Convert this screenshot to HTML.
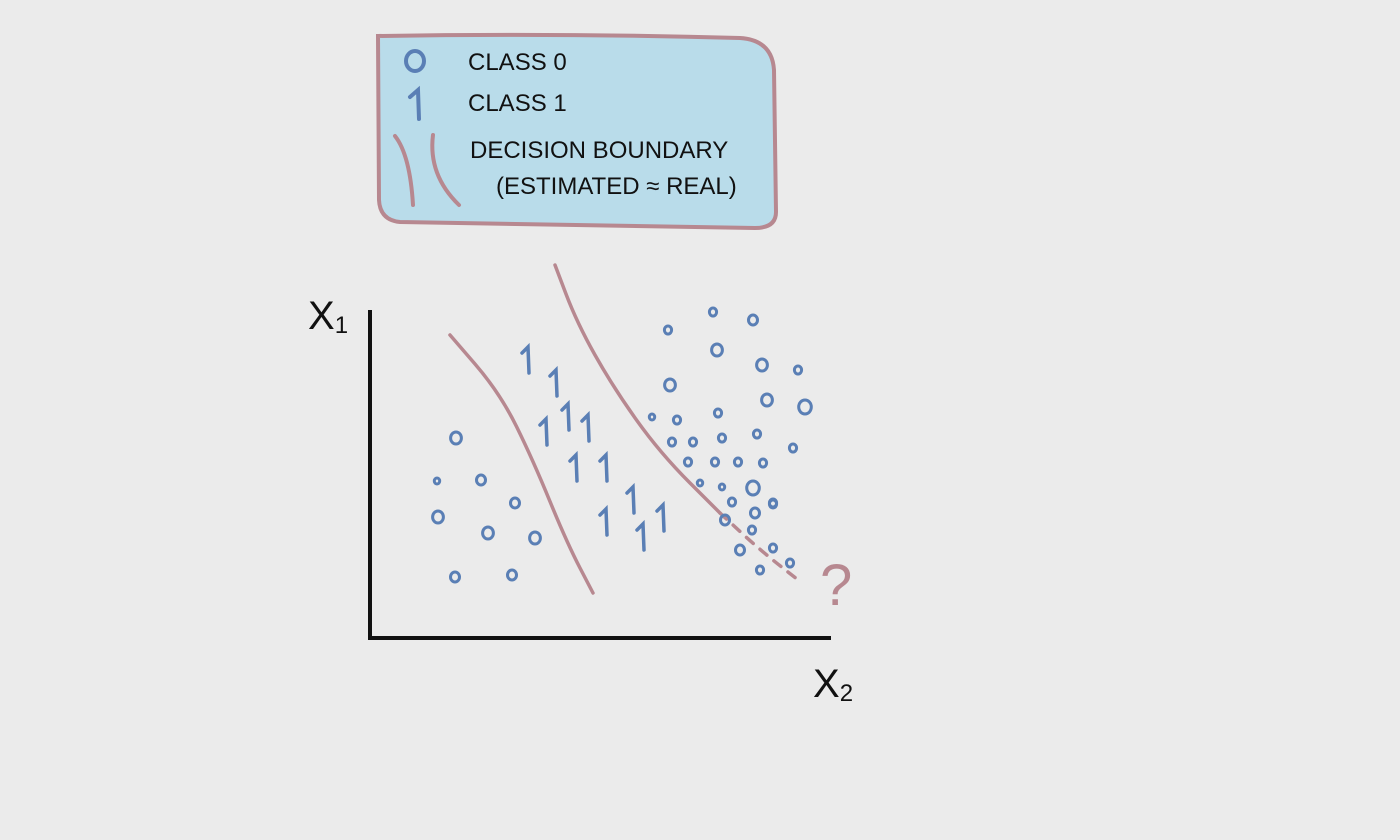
<!DOCTYPE html>
<html><head><meta charset="utf-8"><style>
html,body{margin:0;padding:0;background:#ebebeb;}
svg{display:block;}
text{font-family:"Liberation Sans",sans-serif;}
</style></head><body>
<svg id="chart" width="1400" height="840" viewBox="0 0 1400 840" xmlns="http://www.w3.org/2000/svg">
<rect width="1400" height="840" fill="#ebebeb"/>
<g>
<path d="M378,36 Q560,33 740,38 Q772,40 774,70 L776,212 Q776,228 755,228 L400,222 Q380,220 379,200 Z" fill="#b9dcea" stroke="#b78890" stroke-width="4"/>
<ellipse cx="415" cy="61" rx="9" ry="10" fill="none" stroke="#5a7fb5" stroke-width="4"/>
<text x="468" y="70" font-size="24" fill="#111">CLASS 0</text>
<path d="M410,97 L418,90 L419,119" fill="none" stroke="#5a7fb5" stroke-width="4" stroke-linecap="round"/>
<text x="468" y="111" font-size="24" fill="#111">CLASS 1</text>
<path d="M395,136 Q410,155 413,205" fill="none" stroke="#b78890" stroke-width="4" stroke-linecap="round"/>
<path d="M433,135 Q428,175 459,205" fill="none" stroke="#b78890" stroke-width="4" stroke-linecap="round"/>
<text x="470" y="158" font-size="24" fill="#111">DECISION BOUNDARY</text>
<text x="496" y="194" font-size="24" fill="#111">(ESTIMATED ≈ REAL)</text>
</g>
<g id="plot"></g>
<line x1="370" y1="310" x2="370" y2="639" stroke="#111" stroke-width="4"/>
<line x1="368" y1="638" x2="831" y2="638" stroke="#111" stroke-width="4"/>
<text x="308" y="329" font-size="40" fill="#111">X<tspan font-size="24" dy="4">1</tspan></text>
<text x="813" y="697" font-size="40" fill="#111">X<tspan font-size="24" dy="4">2</tspan></text>
<text x="820" y="605" font-size="58" fill="#b78890">?</text>
</svg>
<script>
const class0X = [86,67,111,145,68,118,165,85,142, 298,343,383,347,392,428,300,397,435,282,307,348,302,323,352,387,423,318,345,368,393,330,352,383,362,403,355,385,382,370,403,403,420,390];
const class0Y = [200,157,158,135,121,105,100,61,63, 308,326,318,288,273,268,253,238,231,221,218,225,196,196,200,204,190,176,176,176,175,155,151,150,136,135,118,125,108,88,90,134,75,68];
const class0Size = [6,3,5,5,6,6,6,5,5, 4,4,5,6,6,4,6,6,7,3,4,4,4,4,4,4,4,4,4,4,4,3,3,7,4,4,5,5,4,5,4,4,4,4];
const class1X = [157,185,197,175,217,205,235,262,235,272,292];
const class1Y = [278,255,221,206,210,170,170,138,116,101,120];
const boundary1X = [80,130,163,197,223];
const boundary1Y = [303,245,178,95,45];
const boundary2X = [185,207,243,290,350];
const boundary2Y = [373,315,251,185,125];
const dashedX = [350,390,432];
const dashedY = [125,88,55];
const xScale = v => 370 + v;
const yScale = v => 638 - v;
const NS = "http://www.w3.org/2000/svg";
const plot = document.getElementById('plot');
function pathFrom(xs, ys){
  let d = "M" + xScale(xs[0]) + "," + yScale(ys[0]);
  for(let i=1;i<xs.length;i++){
    const px=(xScale(xs[i-1])+xScale(xs[i]))/2, py=(yScale(ys[i-1])+yScale(ys[i]))/2;
    d += " Q" + xScale(xs[i-1]) + "," + yScale(ys[i-1]) + " " + px + "," + py;
  }
  d += " L" + xScale(xs[xs.length-1]) + "," + yScale(ys[ys.length-1]);
  return d;
}
function addLine(xs, ys, name, dash){
  const p = document.createElementNS(NS,'path');
  p.setAttribute('d', pathFrom(xs, ys));
  p.setAttribute('fill','none');
  p.setAttribute('stroke','#b78890');
  p.setAttribute('stroke-width','3.5');
  p.setAttribute('stroke-linecap','round');
  if(dash) p.setAttribute('stroke-dasharray','9 9');
  
  
  plot.appendChild(p);
}
addLine(boundary1X, boundary1Y, 'decision-boundary-left', false);
addLine(boundary2X, boundary2Y, 'decision-boundary-right', false);
addLine(dashedX, dashedY, 'decision-boundary-dashed', true);
for(let i=0;i<class0X.length;i++){
  const e = document.createElementNS(NS,'ellipse');
  e.setAttribute('cx', xScale(class0X[i]));
  e.setAttribute('cy', yScale(class0Y[i]));
  e.setAttribute('rx', class0Size[i]*0.9);
  e.setAttribute('ry', class0Size[i]);
  e.setAttribute('fill','none');
  e.setAttribute('stroke','#5a7fb5');
  e.setAttribute('stroke-width','3');
  
  
  plot.appendChild(e);
}
for(let i=0;i<class1X.length;i++){
  const x = xScale(class1X[i]), y = yScale(class1Y[i]);
  const p = document.createElementNS(NS,'path');
  p.setAttribute('d', `M${x-5},${y-7} L${x+1},${y-13} L${x+2},${y+13}`);
  p.setAttribute('fill','none');
  p.setAttribute('stroke','#5a7fb5');
  p.setAttribute('stroke-width','3.5');
  p.setAttribute('stroke-linecap','round');
  
  
  plot.appendChild(p);
}
</script>
</body></html>
